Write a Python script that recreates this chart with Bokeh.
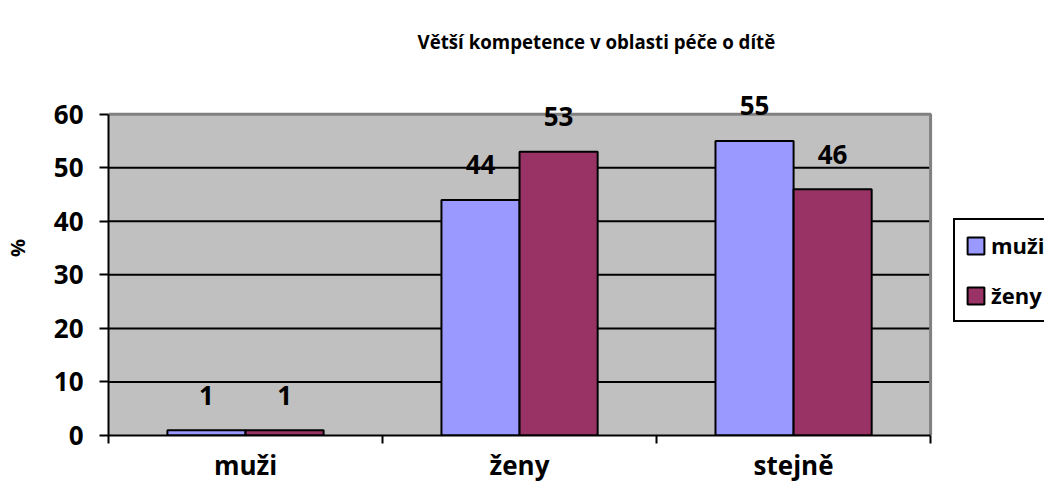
from bokeh.plotting import figure
from bokeh.models import (ColumnDataSource, FixedTicker, Legend, LegendItem,
                          LabelSet, Range1d)
from bokeh.core.properties import value
from bokeh.transform import dodge
from bokeh.embed import file_html
from bokeh.resources import INLINE

title_text = "Větší kompetence v oblasti péče o dítě"
categories = ["muži", "ženy", "stejně"]
series_names = ["muži", "ženy"]
muzi = [1, 44, 55]
zeny = [1, 53, 46]
y_ticks = [0, 10, 20, 30, 40, 50, 60]
y_label = "%"

FONT = "Open Sans"
C1 = "#9999FF"
C2 = "#993366"
GRAY = "#C0C0C0"

# layout (pixels)
FIG_W, FIG_H = 1044, 485
LEFT, TOP, BOTTOM = 99, 60, 48
PLOT_W, PLOT_H = 830, 323          # size of the grey plot area
frame_w = FIG_W - LEFT
frame_h = FIG_H - TOP - BOTTOM

n = len(categories)
ymin, ymax = y_ticks[0], y_ticks[-1]
x_end = n * frame_w / PLOT_W
y_end = ymin + (ymax - ymin) * frame_h / PLOT_H

centers = [i + 0.5 for i in range(n)]
src = ColumnDataSource(dict(
    x=centers, muzi=muzi, zeny=zeny,
    lm=[str(v) for v in muzi], lz=[str(v) for v in zeny],
))

p = figure(width=FIG_W, height=FIG_H, output_backend="svg", toolbar_location=None,
           x_range=Range1d(0, x_end), y_range=Range1d(ymin, y_end),
           min_border_left=LEFT, min_border_right=0, min_border_top=TOP,
           min_border_bottom=BOTTOM, background_fill_color="white",
           border_fill_color="white")
p.outline_line_color = None

p.title.text = title_text
p.title.align = "left"
p.title.text_font = FONT
p.title.text_font_size = "18.7px"
p.title.text_font_style = "bold"
p.title.text_color = "black"
p.title.offset = 309
p.title.standoff = 14

# grey plot area
p.quad(left=0, right=n, bottom=ymin, top=ymax, fill_color=GRAY, line_color=None)
# horizontal grid lines
grid_y = y_ticks[1:-1]
p.segment(x0=[0] * len(grid_y), x1=[n] * len(grid_y), y0=grid_y, y1=grid_y,
          line_color="black", line_width=2)
# plot area border (top and right)
p.line(x=[0, n, n], y=[ymax, ymax, ymin], line_color="#808080", line_width=3)

w = 0.285
r1 = p.vbar(x=dodge("x", -w / 2, range=p.x_range), top="muzi", width=w, source=src,
            fill_color=C1, line_color="black", line_width=2)
r2 = p.vbar(x=dodge("x", w / 2, range=p.x_range), top="zeny", width=w, source=src,
            fill_color=C2, line_color="black", line_width=2)

for col, ycol, off in (("lm", "muzi", -w / 2), ("lz", "zeny", w / 2)):
    p.add_layout(LabelSet(x=dodge("x", off, range=p.x_range), y=ycol, text=col,
                          source=src, y_offset=35, text_align="center",
                          text_baseline="middle", text_font=value(FONT),
                          text_font_size="26px", text_font_style="bold",
                          text_color="black"))

# axes
xa = p.xaxis[0]
xa.bounds = (0, n)
xa.ticker = FixedTicker(ticks=centers, minor_ticks=list(range(n + 1)))
xa.major_label_overrides = {c: lab for c, lab in zip(centers, categories)}
xa.major_tick_line_color = None
xa.major_tick_out = 0
xa.major_tick_in = 0
xa.minor_tick_line_color = "black"
xa.minor_tick_line_width = 2
xa.minor_tick_out = 8
xa.minor_tick_in = 0
xa.axis_line_width = 2
xa.major_label_standoff = 3
xa.major_label_text_font = FONT
xa.major_label_text_font_size = "26px"
xa.major_label_text_font_style = "bold"
xa.major_label_text_color = "black"

ya = p.yaxis[0]
ya.bounds = (ymin, ymax)
ya.ticker = FixedTicker(ticks=y_ticks)
ya.minor_tick_line_color = None
ya.major_tick_line_width = 2
ya.major_tick_out = 9
ya.major_tick_in = 0
ya.axis_line_width = 2
ya.major_label_standoff = 16
ya.major_label_text_font = FONT
ya.major_label_text_font_size = "26px"
ya.major_label_text_font_style = "bold"
ya.major_label_text_color = "black"
ya.axis_label = y_label
ya.axis_label_text_font = FONT
ya.axis_label_text_font_size = "20px"
ya.axis_label_text_font_style = "bold"
ya.axis_label_text_color = "black"
ya.axis_label_standoff = 20

p.xgrid.grid_line_color = None
p.ygrid.grid_line_color = None

legend = Legend(items=[LegendItem(label=series_names[0], renderers=[r1]),
                       LegendItem(label=series_names[1], renderers=[r2])],
                location=(845, 113), orientation="vertical")
legend.margin = 0
legend.padding = 10
legend.spacing = 20
legend.glyph_width = 21
legend.glyph_height = 21
legend.label_standoff = 5
legend.label_text_font = FONT
legend.label_text_font_size = "22px"
legend.label_text_font_style = "bold"
legend.label_text_color = "black"
legend.border_line_color = "black"
legend.border_line_width = 2
legend.border_line_alpha = 1
legend.background_fill_color = "white"
legend.background_fill_alpha = 1
p.add_layout(legend)

open("out.html", "w").write(file_html(p, INLINE))
